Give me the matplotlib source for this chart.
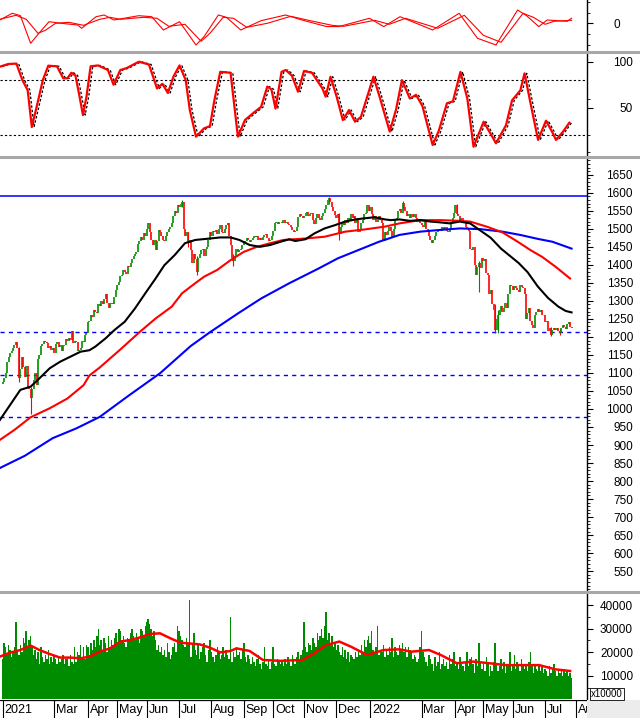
import matplotlib
matplotlib.use("Agg")
import matplotlib.pyplot as plt
import numpy as np
from matplotlib.lines import Line2D
from matplotlib.patches import Rectangle

plt.rcParams['font.family'] = ['Liberation Sans', 'DejaVu Sans']

# ---------------- data (bar index = trading day) ----------------
first_open = 1070
closes = [
    1075, 1085, 1100, 1130, 1145, 1155, 1160, 1170, 1178, 1185, 1168, 1085, 1110, 1145, 1117, 1090, 1120, 1060, 1055, 1030,
    1055, 1080, 1100, 1066, 1140, 1150, 1175, 1180, 1188, 1185, 1182, 1168, 1175, 1165, 1170, 1155, 1180, 1185, 1173, 1178,
    1160, 1175, 1178, 1195, 1190, 1198, 1192, 1215, 1182, 1190, 1185, 1160, 1165, 1170, 1190, 1185, 1205, 1210, 1240, 1245,
    1260, 1255, 1275, 1270, 1265, 1290, 1285, 1300, 1290, 1305, 1320, 1293, 1280, 1290, 1295, 1290, 1310, 1330, 1345, 1352,
    1368, 1372, 1385, 1380, 1375, 1398, 1395, 1405, 1415, 1425, 1430, 1435, 1458, 1465, 1478, 1470, 1488, 1480, 1500, 1515,
    1490, 1470, 1455, 1470, 1440, 1465, 1498, 1490, 1480, 1470, 1465, 1480, 1490, 1500, 1505, 1515, 1535, 1550, 1545, 1565,
    1560, 1568, 1575, 1500, 1480, 1490, 1460, 1470, 1440, 1405, 1430, 1415, 1380, 1420, 1430, 1440, 1445, 1425, 1445, 1450,
    1468, 1490, 1480, 1495, 1490, 1497, 1485, 1500, 1510, 1490, 1487, 1500, 1510, 1515, 1480, 1455, 1420, 1410, 1425, 1445,
    1435, 1440, 1445, 1455, 1462, 1465, 1475, 1470, 1462, 1470, 1475, 1480, 1478, 1480, 1470, 1475, 1470, 1478, 1482, 1485,
    1475, 1465, 1470, 1480, 1495, 1515, 1520, 1512, 1518, 1520, 1515, 1525, 1515, 1520, 1512, 1510, 1505, 1498, 1490, 1495,
    1505, 1533, 1540, 1535, 1530, 1535, 1545, 1547, 1535, 1540, 1545, 1525, 1512, 1530, 1540, 1530, 1525, 1535, 1545, 1555,
    1566, 1580, 1585, 1575, 1560, 1548, 1538, 1530, 1540, 1485, 1505, 1520, 1510, 1525, 1515, 1530, 1525, 1540, 1530, 1535,
    1515, 1525, 1490, 1500, 1515, 1525, 1540, 1545, 1565, 1550, 1560, 1540, 1525, 1535, 1520, 1530, 1535, 1525, 1515, 1465,
    1490, 1483, 1495, 1505, 1495, 1478, 1500, 1524, 1530, 1550, 1555, 1545, 1572, 1560, 1550, 1535, 1540, 1530, 1540, 1532,
    1540, 1530, 1520, 1525, 1515, 1510, 1505, 1520, 1500, 1495, 1480, 1470, 1460, 1470, 1480, 1490, 1495, 1500, 1495, 1505,
    1500, 1505, 1495, 1490, 1500, 1520, 1530, 1545, 1566, 1540, 1535, 1525, 1530, 1520, 1515, 1505, 1500, 1495, 1445, 1440,
    1450, 1400, 1372, 1395, 1405, 1390, 1420, 1410, 1415, 1378, 1372, 1320, 1330, 1290, 1275, 1220, 1250, 1260, 1275, 1285,
    1270, 1280, 1293, 1280, 1320, 1345, 1340, 1330, 1340, 1335, 1330, 1325, 1345, 1338, 1335, 1320, 1250, 1265, 1280, 1245,
    1232, 1225, 1260, 1268, 1278, 1270, 1275, 1262, 1260, 1240, 1245, 1215, 1225, 1205, 1220, 1225, 1218, 1225, 1215, 1210,
    1225, 1232, 1228, 1222, 1235, 1240, 1228, 1225,
]
wick_idx = [11, 19, 122, 126, 132, 157, 222, 229, 272, 309, 324, 335, 337, 373, 379]
wick_low = [1075, 985, 1560, 1450, 1372, 1398, 1570, 1470, 1555, 1540, 1325, 1210, 1212, 1202, 1205]
wick_high = [1172, 1060, 1580, 1490, 1425, 1430, 1589, 1545, 1578, 1570, 1410, 1290, 1275, 1228, 1222]

ma20_i = [-2, 5, 12, 19, 25, 32, 39, 46, 53, 59, 63, 70, 76, 83, 90, 97, 104, 110, 117, 124, 131, 141, 148, 155,
          161, 168, 175, 182, 189, 195, 199, 206, 212, 219, 226, 233, 240, 246, 253, 260, 264, 270, 277, 284,
          291, 297, 304, 311, 318, 325, 332, 339, 345, 351, 357, 364, 371, 378, 383, 387]
ma20_v = [969, 1011, 1053, 1062, 1085, 1113, 1131, 1145, 1159, 1163, 1173, 1196, 1219, 1242, 1279, 1321, 1362, 1399,
          1427, 1460, 1469, 1473, 1476, 1476, 1469, 1455, 1450, 1455, 1464, 1471, 1466, 1471, 1487, 1501, 1510, 1520,
          1526, 1529, 1532, 1526, 1524, 1526, 1522, 1524, 1520, 1518, 1515, 1520, 1515, 1495, 1475, 1445, 1425, 1405,
          1380, 1340, 1308, 1284, 1272, 1268]
ma50_i = [-2, 8, 19, 32, 44, 55, 59, 66, 80, 93, 104, 115, 122, 131, 137, 146, 155, 164, 173, 182, 191, 206, 219,
          233, 246, 260, 270, 284, 298, 311, 318, 330, 340, 350, 359, 367, 376, 386]
ma50_v = [914, 942, 977, 1002, 1029, 1066, 1093, 1115, 1165, 1213, 1251, 1284, 1321, 1349, 1367, 1386, 1413, 1436,
          1450, 1460, 1469, 1473, 1478, 1492, 1498, 1506, 1515, 1524, 1524, 1522, 1520, 1505, 1490, 1465, 1441, 1422,
          1395, 1362]
ma200_i = [-2, 15, 34, 50, 66, 85, 107, 128, 141, 160, 176, 195, 215, 228, 242, 256, 270, 284, 298, 311, 325, 340,
           352, 364, 374, 387]
ma200_v = [836, 870, 919, 946, 978, 1035, 1099, 1175, 1213, 1265, 1307, 1349, 1390, 1418, 1441, 1464, 1483, 1492,
           1497, 1501, 1499, 1492, 1483, 1472, 1464, 1445]
level_solid = 1590
level_dashed = [1213, 1094, 977]

volume_k = [
    17, 24, 22, 19, 23, 21, 18, 20, 22, 33, 21, 19, 23, 20, 26, 24, 29, 22, 25, 27,
    22, 19, 21, 17, 20, 15, 22, 18, 16, 19, 17, 21, 15, 18, 16, 19, 17, 15, 18, 16,
    17, 19, 15, 17, 18, 14, 19, 16, 15, 22, 16, 20, 19, 23, 18, 22, 17, 23, 22, 19,
    24, 21, 25, 22, 27, 30, 23, 25, 21, 26, 24, 20, 27, 22, 25, 23, 26, 28, 24, 30,
    29, 25, 27, 24, 22, 26, 25, 28, 30, 27, 25, 28, 26, 24, 30, 29, 27, 31, 33, 34,
    32, 30, 27, 29, 25, 21, 23, 20, 22, 19, 21, 18, 24, 20, 17, 19, 22, 24, 20, 31,
    29, 27, 25, 23, 22, 26, 24, 42, 18, 24, 28, 21, 19, 23, 17, 20, 22, 24, 19, 16,
    21, 25, 20, 18, 16, 19, 22, 20, 17, 19, 22, 18, 21, 19, 17, 35, 16, 20, 18, 22,
    19, 20, 17, 21, 24, 18, 16, 19, 17, 15, 18, 16, 14, 17, 19, 15, 13, 16, 22, 15,
    14, 17, 13, 16, 22, 15, 14, 17, 16, 15, 16, 14, 17, 15, 18, 16, 14, 19, 17, 15,
    18, 20, 17, 19, 21, 33, 22, 20, 24, 23, 21, 26, 24, 22, 28, 25, 27, 30, 26, 31,
    37, 25, 28, 24, 27, 22, 24, 21, 23, 20, 19, 22, 18, 21, 17, 20, 16, 19, 18, 17,
    20, 18, 21, 19, 23, 20, 25, 22, 25, 27, 24, 29, 21, 20, 22, 31, 19, 21, 20, 23,
    18, 21, 19, 22, 20, 26, 18, 22, 20, 19, 23, 21, 24, 20, 22, 18, 22, 21, 20, 17,
    19, 18, 16, 17, 22, 29, 20, 18, 16, 14, 19, 17, 15, 12, 18, 14, 16, 20, 13, 15,
    17, 14, 16, 13, 19, 15, 17, 20, 14, 16, 13, 18, 15, 14, 12, 16, 20, 14, 17, 18,
    15, 11, 17, 14, 24, 16, 13, 15, 12, 18, 16, 10, 14, 12, 16, 24, 15, 12, 14, 17,
    13, 16, 11, 15, 14, 20, 12, 15, 19, 13, 16, 14, 12, 17, 15, 13, 14, 12, 16, 20,
    15, 11, 14, 13, 12, 15, 12, 14, 11, 13, 12, 10, 14, 11, 13, 15, 12, 10, 13, 11,
    12, 10, 13, 11, 12, 10, 11, 9,
]
vma_i = [-2, 5, 12, 19, 25, 32, 39, 46, 53, 59, 66, 73, 80, 87, 93, 100, 107, 114, 121, 127, 134, 141, 148, 155,
         159, 168, 177, 189, 204, 212, 220, 229, 237, 248, 259, 270, 278, 290, 298, 309, 320, 331, 342, 354, 365,
         376, 386]
vma_k = [18.1, 19.8, 20.9, 22.8, 20.9, 19.2, 17.7, 17.7, 17.4, 18.1, 20.2, 21.6, 24.5, 25.2, 26.2, 27.7, 28.0,
         25.9, 24.0, 23.7, 23.3, 21.9, 19.9, 20.5, 21.6, 20.5, 16.7, 16.3, 16.7, 19.5, 23.0, 24.5, 22.3, 18.8, 20.9,
         21.2, 20.2, 20.9, 18.8, 15.3, 16.0, 15.3, 14.5, 14.5, 14.5, 12.7, 12.0]

stoch_i = [-2, 3.7, 9.3, 13.4, 17, 19.8, 23.1, 27.3, 31, 36.9, 41.2, 44, 46.7, 49.5, 52.3, 54.6, 57, 59.8, 64.8,
           71.6, 75.4, 80, 84.2, 92.6, 99.5, 105, 108.6, 112.4, 116.2, 120.3, 124.5, 127.3, 131.5, 137, 141, 144,
           148, 155, 160, 164.8, 170.3, 175.8, 180, 182.8, 185.6, 189.7, 192.5, 196.7, 200.9, 205, 210.4, 217.5,
           219.7, 223, 227.2, 231.4, 235.6, 239.7, 243.7, 252.2, 256.4, 263.3, 267.6, 271.6, 277, 281.2, 285.5,
           292.5, 296.7, 302.2, 306.3, 311.4, 316.1, 320.3, 327.2, 335.6, 342.4, 346.5, 352.2, 355, 359.1, 364.2,
           369.6, 373.7, 376.4, 381.2, 385.5]
stoch_k = [94.6, 97.5, 98, 80, 69, 29, 51, 80, 95.7, 95, 82, 82, 88, 85, 62, 42, 62, 95, 96, 91, 75, 91, 93, 100,
           97, 71, 76, 66, 84, 96, 80, 47.5, 18.5, 27.6, 30, 58, 89, 88, 18.5, 36.6, 44, 51, 73, 70, 49, 89, 91, 85,
           67.4, 90, 88, 71, 62, 83.7, 62, 36.6, 47.5, 34.8, 40, 83.7, 62, 24, 48, 80, 60, 64, 52, 9.5, 25, 54.8, 57,
           89, 60, 7.6, 34.8, 11.3, 31, 58, 69, 87.4, 54.8, 15, 35.9, 24, 15, 24, 33.7]

macd_i = [-2, 6.5, 12, 19, 24.6, 31.5, 39.8, 51, 53.7, 63.5, 69, 75.7, 92.6, 101.4, 109.3, 120.3, 131.5, 137,
          146.7, 152.2, 162, 175.7, 192.5, 203.6, 220.3, 228.6, 249.5, 259.2, 270.3, 292.5, 310.5, 323, 335.6,
          350.3, 356.3, 364.7, 370.4, 384, 387]
macd_v = [3.3, 10, 7.7, -20, -10, 1.6, 0, -1.7, -5, 6.6, 8.3, 3.3, 7.6, 6.6, -6.7, 1.6, -21.7, -13.3, 8.3, 6, -6.7,
          2.6, 8.3, 3.3, -3.3, -3.3, 5, -3.3, 6.6, -6.7, 10, -15, -21.7, 13.3, 7.7, -3.3, 3.3, 2, 5]
signal_i = [-2, 9, 16, 24, 29, 36, 45, 55, 66, 73, 80, 96, 105, 113, 124, 135, 141, 150, 157, 166, 180, 196, 208,
            224, 232, 253, 263, 274, 296, 314, 327, 339, 354, 361, 369, 375, 387]
signal_v = [4, 8, 4, -10, -7, 0, 1, -2, 4, 6, 4, 6, 5, -3, -1, -18, -10, 6, 5, -4, 0, 7, 3, -2, -3, 3, -1, 5, -5,
            8, -12, -19, 10, 6, -1, 2, 3]

month_idx = [0, 35, 58, 78, 98, 120, 142, 164, 184, 205, 227, 250, 285, 308, 327, 347, 369, 390]
month_lbl = ['2021', 'Mar', 'Apr', 'May', 'Jun', 'Jul', 'Aug', 'Sep', 'Oct', 'Nov', 'Dec', '2022',
             'Mar', 'Apr', 'May', 'Jun', 'Jul', 'Aug']

# ---------------- layout ----------------
W, H = 640.0, 718.0
XR = 587.0
XMIN, XMAX = -1.84, 397.5
GREEN = '#008c00'
RED = '#ff0000'

fig = plt.figure(figsize=(6.4, 7.18), dpi=100)


def panel(top, bottom):
    return fig.add_axes([0, 1 - bottom / H, XR / W, (bottom - top) / H])


def style(ax, pad=28.6):
    ax.set_xlim(XMIN, XMAX)
    for s in ('left', 'top', 'bottom'):
        ax.spines[s].set_visible(False)
    ax.spines['right'].set_linewidth(1.0)
    ax.yaxis.tick_right()
    ax.tick_params(axis='x', which='both', bottom=False, top=False, labelbottom=False)
    ax.tick_params(axis='y', which='major', direction='out', length=4.5, width=0.8,
                   pad=pad, labelsize=8.5)
    ax.tick_params(axis='y', which='minor', direction='out', length=2.5, width=0.6)


def right_align(ax):
    plt.setp(ax.get_yticklabels(), ha='right')


# MACD panel
ax_m = panel(0, 50)
style(ax_m, pad=19.0)
ax_m.plot(macd_i, macd_v, color=RED, lw=0.8)
ax_m.plot(signal_i, signal_v, color=RED, lw=0.8)
ax_m.set_ylim(-26.7, 23.3)
ax_m.set_yticks([0])
ax_m.set_yticks([-21.4, -10.7, 10.7, 21.4], minor=True)
right_align(ax_m)

# stochastic panel
ax_s = panel(53, 155)
style(ax_s)
ax_s.axhline(80, color='black', lw=0.8, dashes=(2, 2))
ax_s.axhline(20, color='black', lw=0.8, dashes=(2, 2))
ax_s.plot(np.array(stoch_i) + 1.5, stoch_k, color='black', lw=0.9, dashes=(2, 1.5))
ax_s.plot(stoch_i, stoch_k, color=RED, lw=1.6)
ax_s.set_ylim(-1.4, 109.5)
ax_s.set_yticks([50, 100])
ax_s.set_yticks([1.5, 20, 60], minor=True)
right_align(ax_s)

# price panel
ax_p = panel(158, 590)
style(ax_p)
idx = np.arange(len(closes))
c = np.array(closes, dtype=float)
o = np.concatenate([[first_open], c[:-1]])
col = np.where(c >= o, GREEN, RED)
ax_p.axhline(level_solid, color='#0000ff', lw=1.1)
for lv in level_dashed:
    ax_p.axhline(lv, color='#0000ff', lw=1.0, dashes=(3, 3))
w_col = [col[k] for k in wick_idx]
ax_p.vlines(wick_idx, wick_low, wick_high, colors=w_col, lw=0.8)
ax_p.vlines(idx, np.minimum(o, c), np.maximum(o, c), colors=col, lw=1.2)
ax_p.plot(ma200_i, ma200_v, color='#0000ff', lw=1.5)
ax_p.plot(ma50_i, ma50_v, color=RED, lw=1.5)
ax_p.plot(ma20_i, ma20_v, color='black', lw=1.5)
ax_p.set_ylim(497.7, 1696.4)
ax_p.set_yticks(np.arange(550, 1651, 50))
ax_p.set_yticks(np.arange(500, 1691, 10), minor=True)
right_align(ax_p)

# volume panel
ax_v = panel(593, 700)
style(ax_v)
vol = np.array(volume_k) * 1000
ax_v.bar(np.arange(len(vol)), vol, width=1.0, color=GREEN, linewidth=0)
ax_v.plot(vma_i, np.array(vma_k) * 1000, color=RED, lw=1.8)
ax_v.set_ylim(-300, 45100)
ax_v.set_yticks([10000, 20000, 30000, 40000])
ax_v.set_yticks(np.arange(5000, 45001, 5000), minor=True)
right_align(ax_v)

# date strip
ax_d = panel(700, 718)
ax_d.set_xlim(XMIN, XMAX)
ax_d.set_ylim(0, 1)
ax_d.axis('off')
ax_d.vlines(month_idx, 0, 1, color='black', lw=0.8)
ax_d.axhline(1, color='black', lw=0.9)
for m, lbl in zip(month_idx, month_lbl):
    ax_d.text(m + 1.2, 0.42, lbl, fontsize=9, va='center', ha='left', clip_on=True)

fig.patches.append(Rectangle((XR / W, 0), 1 - XR / W, 18 / H, transform=fig.transFigure,
                             facecolor='#ececec', edgecolor='none', zorder=0))
fig.text(591 / W, 1 - 694 / H, 'x10000', fontsize=7, va='center', ha='left',
         bbox=dict(facecolor='white', edgecolor='black', lw=0.6, pad=1.0))

for yy in (51.5, 156.5, 591.5):
    fig.add_artist(Line2D([0, 1], [1 - yy / H] * 2, color='#a8a8a8', lw=2.2))

fig.savefig('out.png', dpi=100)
